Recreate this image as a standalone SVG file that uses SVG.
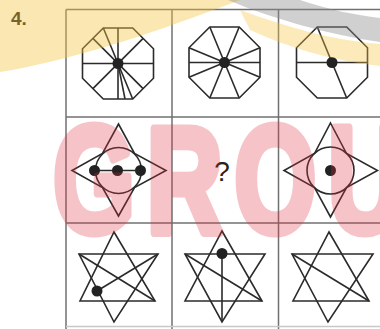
<svg xmlns="http://www.w3.org/2000/svg" width="380" height="329" viewBox="0 0 380 329">
<style>
.grid{stroke:#707070;stroke-width:1.5;fill:none}
.ln{stroke:#2b2b2b;stroke-width:1.6;fill:none;stroke-linejoin:miter}
.dot{fill:#222}
.lbl{font-family:"Liberation Sans",Arial,sans-serif}
</style>
<defs>
<polygon id="oct" points="-14.7,-35.5 14.7,-35.5 35.5,-14.7 35.5,14.7 14.7,35.5 -14.7,35.5 -35.5,14.7 -35.5,-14.7"/>
</defs>
<rect width="380" height="329" fill="#fff"/>
<g id="grid" class="grid">
<line x1="66" y1="9.5" x2="66" y2="329"/>
<line x1="172" y1="9.5" x2="172" y2="329"/>
<line x1="278.5" y1="9.5" x2="278.5" y2="329"/>
<line x1="66" y1="9.5" x2="380" y2="9.5"/>
<line x1="66" y1="117" x2="380" y2="117"/>
<line x1="66" y1="223" x2="380" y2="223"/>
<line x1="66" y1="326.5" x2="380" y2="326.5" stroke="#c8c8c8"/>
</g>
<text class="lbl" x="11" y="25" font-size="19" font-weight="bold" fill="#222">4.</text>
<g id="oct1" class="ln" transform="translate(118,63.5)">
<use href="#oct"/>
<line x1="0" y1="-35.5" x2="0" y2="35.5"/>
<line x1="-35.5" y1="0" x2="35.5" y2="0"/>
<line x1="-25.1" y1="-25.1" x2="25.1" y2="25.1"/>
<line x1="25.1" y1="-25.1" x2="-25.1" y2="25.1"/>
<line x1="0" y1="0" x2="-14.7" y2="-35.5"/>
<line x1="0" y1="0" x2="7" y2="35.5"/>
<line x1="0" y1="0" x2="14.7" y2="35.5"/>
<circle class="dot" r="5.5" stroke="none"/>
</g>
<g id="oct2" class="ln" transform="translate(224.5,62.5)">
<use href="#oct"/>
<line x1="-35.5" y1="0" x2="35.5" y2="0"/>
<line x1="-14.7" y1="-35.5" x2="14.7" y2="35.5"/>
<line x1="14.7" y1="-35.5" x2="-14.7" y2="35.5"/>
<line x1="35.5" y1="-14.7" x2="-35.5" y2="14.7"/>
<line x1="35.5" y1="14.7" x2="-35.5" y2="-14.7"/>
<circle class="dot" r="5.5" stroke="none"/>
</g>
<g id="oct3" class="ln" transform="translate(332,62.5)">
<use href="#oct"/>
<line x1="-35.5" y1="0" x2="35.5" y2="0"/>
<line x1="-14.7" y1="-35.5" x2="14.7" y2="35.5"/>
<circle class="dot" r="5.5" stroke="none"/>
</g>
<g id="star1" class="ln" transform="translate(118.5,170.5)">
<path d="M0,-46.5 L16,-17 L47.5,0 L16,17 L0,45.5 L-16,17 L-46.5,0 L-16,-17 Z"/>
<circle r="23"/>
<line x1="-24" y1="0" x2="23" y2="0"/>
<circle class="dot" cx="-24" r="5.5" stroke="none"/>
<circle class="dot" cx="-1" r="5.5" stroke="none"/>
<circle class="dot" cx="22" r="5.5" stroke="none"/>
</g>
<g id="q">
<text class="lbl" x="222" y="181" font-size="28" text-anchor="middle" fill="#2a2020">?</text>
</g>
<g id="star3" class="ln" transform="translate(330.5,170.5)">
<path d="M0,-47.5 L16,-17 L47,0 L16,17 L0,46.5 L-16,17 L-46.5,0 L-16,-17 Z"/>
<circle r="23.5"/>
<circle class="dot" r="5.5" stroke="none"/>
</g>
<g id="hex1" class="ln" transform="translate(118,0)">
<path d="M-4,232 L37,301 L-38,301 Z"/>
<path d="M-39,254 L40,254 L-4,322 Z"/>
<line x1="-39" y1="254" x2="37" y2="301"/>
<line x1="-21" y1="291" x2="40" y2="254"/>
<circle class="dot" cx="-21" cy="291" r="5.5" stroke="none"/>
</g>
<g id="hex2" class="ln" transform="translate(224,0)">
<path d="M-2,231 L38,301 L-39,301 Z"/>
<path d="M-39,254 L41,254 L-2,322 Z"/>
<line x1="-2" y1="254" x2="-2" y2="322"/>
<line x1="-39" y1="254" x2="38" y2="301"/>
<circle class="dot" cx="-2" cy="253.5" r="5.5" stroke="none"/>
</g>
<g id="hex3" class="ln" transform="translate(330,0)">
<path d="M-1,232 L39,301 L-37,301 Z"/>
<path d="M-38,254 L43,254 L-2,322 Z"/>
<line x1="-38" y1="254" x2="39" y2="301"/>
</g>
<g id="watermark">
<path d="M0,0 L240,0 C200,15 140,38 80,54 C50,62 25,68 0,72 Z" fill="#f5c23c" opacity="0.4"/>
<path d="M228,0 L300,0 C330,10 355,15 380,18 L380,42 C330,35 270,18 228,0 Z" fill="#8a8a8a" opacity="0.4"/>
<path d="M240,10 C290,28 330,40 380,44 L380,66 C330,60 290,48 250,30 Z" fill="#f5c23c" opacity="0.35"/>
<g opacity="0.28">
<text transform="scale(0.7,1)" x="76" y="232" font-family="Liberation Sans,Arial,sans-serif" font-weight="bold" font-size="150" letter-spacing="17" fill="#e0303c" stroke="#e0303c" stroke-width="9" stroke-linejoin="round">GROU</text>
</g>
</g>
</svg>
